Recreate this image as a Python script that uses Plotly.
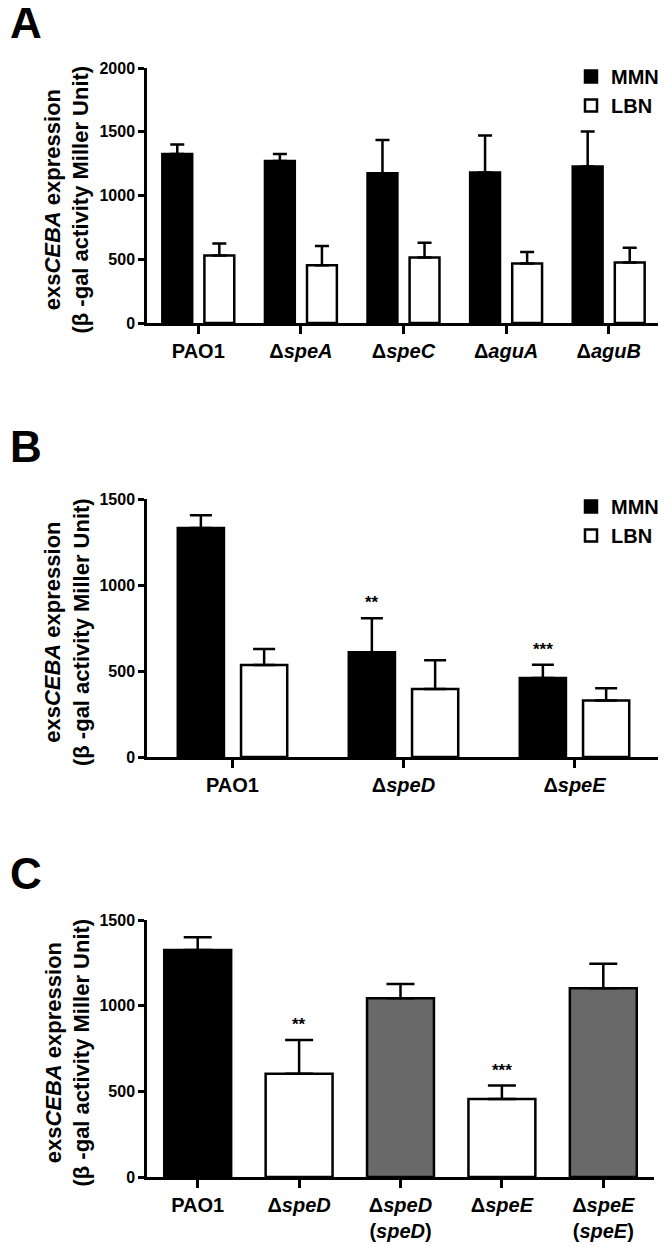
import plotly.graph_objects as go

# ---------------- data ----------------
cats_a = ["PAO1", "Δ<i>speA</i>", "Δ<i>speC</i>", "Δ<i>aguA</i>", "Δ<i>aguB</i>"]
mmn_a = [1326, 1271, 1174, 1180, 1227]
mmn_a_err = [74, 55, 262, 290, 275]
lbn_a = [529, 453, 514, 467, 474]
lbn_a_err = [95, 150, 115, 89, 116]

cats_b = ["PAO1", "Δ<i>speD</i>", "Δ<i>speE</i>"]
mmn_b = [1331, 609, 459]
mmn_b_err = [74, 197, 78]
lbn_b = [535, 395, 328]
lbn_b_err = [93, 167, 71]
sig_b = ["", "**", "***"]

cats_c = ["PAO1", "Δ<i>speD</i>", "Δ<i>speD</i><br>(<i>speD</i>)", "Δ<i>speE</i>", "Δ<i>speE</i><br>(<i>speE</i>)"]
vals_c = [1325, 602, 1043, 455, 1102]
errs_c = [74, 198, 84, 79, 142]
colors_c = ["#000000", "#ffffff", "#696969", "#ffffff", "#696969"]
sig_c = ["", "**", "", "***", ""]

FONT = "Liberation Sans, Arial, sans-serif"
OFF = 8                      # page body margin
W, H = 666 - OFF, 1247 - OFF

def px(p):
    return (p - OFF) / W

def py(p):
    return 1 - (p - OFF) / H

fig = go.Figure()

def err(arr, lw=2.5, cw=7):
    return dict(type="data", array=arr, arrayminus=[0] * len(arr), symmetric=False,
                color="black", thickness=lw, width=cw)

# Panel A
fig.add_trace(go.Bar(x=cats_a, y=mmn_a, name="MMN", marker=dict(color="black", line=dict(color="black", width=2.5)),
                     error_y=err(mmn_a_err), xaxis="x", yaxis="y", legend="legend", legendgroup="m"))
fig.add_trace(go.Bar(x=cats_a, y=lbn_a, name="LBN", marker=dict(color="white", line=dict(color="black", width=2.5)),
                     error_y=err(lbn_a_err), xaxis="x", yaxis="y", legend="legend", legendgroup="l"))
# Panel B
fig.add_trace(go.Bar(x=cats_b, y=mmn_b, name="MMN", marker=dict(color="black", line=dict(color="black", width=2.5)),
                     error_y=err(mmn_b_err, cw=11), xaxis="x2", yaxis="y2", legend="legend2", legendgroup="m2",
                     width=0.27, offset=-0.32))
fig.add_trace(go.Bar(x=cats_b, y=lbn_b, name="LBN", marker=dict(color="white", line=dict(color="black", width=2.5)),
                     error_y=err(lbn_b_err, cw=11), xaxis="x2", yaxis="y2", legend="legend2", legendgroup="l2",
                     width=0.27, offset=0.05))
# Panel C
fig.add_trace(go.Bar(x=cats_c, y=vals_c, marker=dict(color=colors_c, line=dict(color="black", width=2.5)),
                     error_y=err(errs_c, cw=14), xaxis="x3", yaxis="y3", showlegend=False, width=0.66))

axis_common = dict(showline=True, linecolor="black", linewidth=2.5, ticks="outside", tickcolor="black",
                   tickwidth=2.5, showgrid=False, zeroline=False, automargin=False,
                   tickfont=dict(family=FONT, size=16, color="black", weight="bold"))
xaxis_common = dict(axis_common, ticklen=8, tickfont=dict(family=FONT, size=20, color="black", weight="bold"))
yaxis_common = dict(axis_common, ticklen=6)

ytitle = "exs<i>CEBA</i> expression<br>(β -gal activity Miller Unit)"
ytfont = dict(family=FONT, size=22, color="black", weight="bold")

lgfont = dict(family=FONT, size=20, color="black", weight="bold")
fig.update_layout(
    width=W, height=H, margin=dict(l=0, r=0, t=0, b=0, autoexpand=False),
    plot_bgcolor="white", paper_bgcolor="white",
    barmode="group", bargap=0.18, bargroupgap=0.29,
    xaxis=dict(xaxis_common, domain=[px(147), px(660)], anchor="y", range=[-0.5, 4.5]),
    yaxis=dict(yaxis_common, domain=[py(323), py(68)], anchor="x", range=[0, 2000], tickvals=[0, 500, 1000, 1500, 2000]),
    xaxis2=dict(xaxis_common, domain=[px(147), px(660)], anchor="y2", range=[-0.5, 2.5]),
    yaxis2=dict(yaxis_common, domain=[py(757), py(499)], anchor="x2", range=[0, 1500], tickvals=[0, 500, 1000, 1500]),
    xaxis3=dict(xaxis_common, domain=[px(147), px(654)], anchor="y3", range=[-0.5, 4.5]),
    yaxis3=dict(yaxis_common, domain=[py(1177), py(920)], anchor="x3", range=[0, 1500], tickvals=[0, 500, 1000, 1500]),
    legend=dict(x=px(571), y=py(57), xanchor="left", yanchor="top", bgcolor="rgba(0,0,0,0)",
                font=lgfont, tracegroupgap=0),
    legend2=dict(x=px(571), y=py(487), xanchor="left", yanchor="top", bgcolor="rgba(0,0,0,0)",
                 font=lgfont, tracegroupgap=0),
)

annots = []
for letter, yc in [("A", 22), ("B", 446), ("C", 873)]:
    annots.append(dict(text=letter, x=px(8), y=py(yc), xref="paper", yref="paper", xanchor="left", yanchor="middle",
                       showarrow=False, font=dict(family=FONT, size=44, color="black", weight="bold")))
for top, bot in [(68, 323), (499, 757), (920, 1177)]:
    annots.append(dict(text=ytitle, x=px(67), y=py((top + bot) / 2 + 4), xref="paper", yref="paper",
                       xanchor="center", yanchor="middle", textangle=-90, showarrow=False, font=ytfont))
for i, s in enumerate(sig_b):
    if s:
        annots.append(dict(text=s, x=cats_b[i], y=mmn_b[i] + mmn_b_err[i], xref="x2", yref="y2", xshift=-32,
                           yanchor="bottom", yshift=4, showarrow=False,
                           font=dict(family=FONT, size=17, color="black", weight="bold")))
for i, s in enumerate(sig_c):
    if s:
        annots.append(dict(text=s, x=cats_c[i], y=vals_c[i] + errs_c[i], xref="x3", yref="y3",
                           yanchor="bottom", yshift=4, showarrow=False,
                           font=dict(family=FONT, size=17, color="black", weight="bold")))
fig.update_layout(annotations=annots)

fig.write_html("out.html")
